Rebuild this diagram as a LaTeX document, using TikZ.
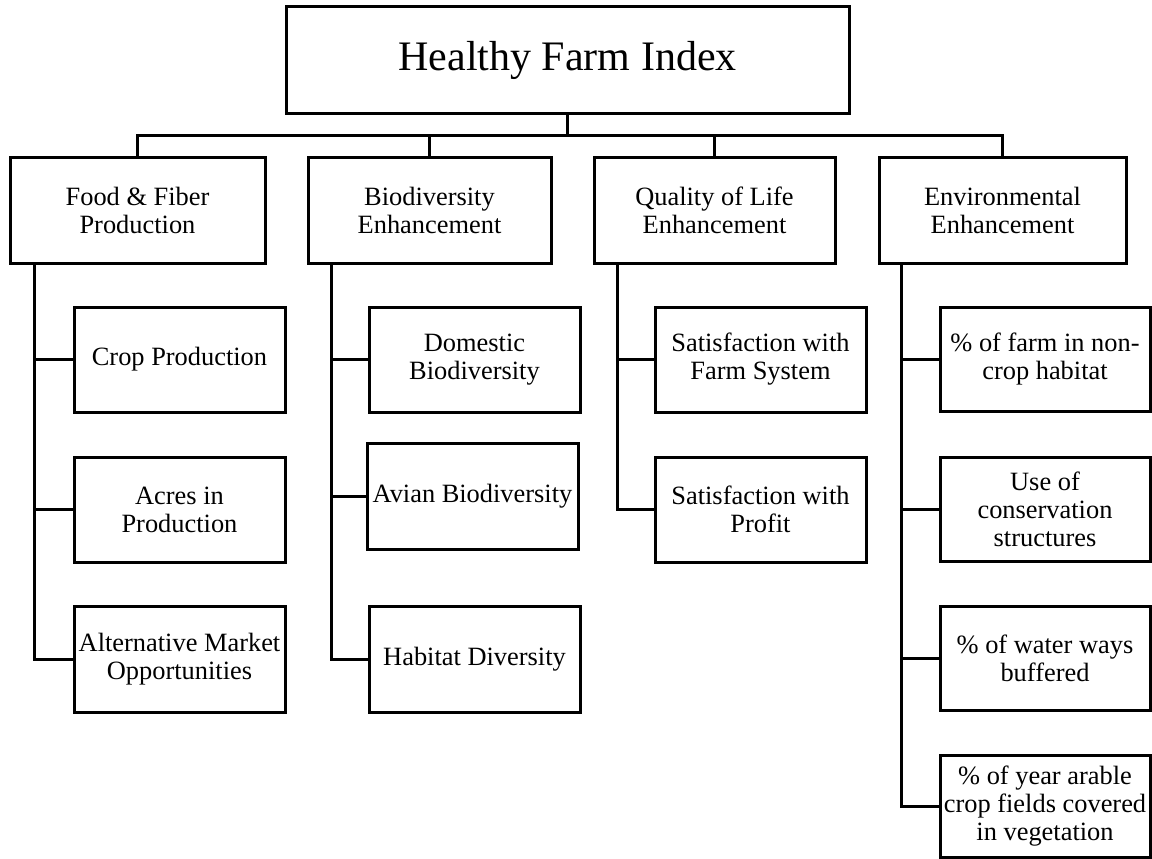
\documentclass[tikz,border=0pt]{standalone}
\usepackage{fontspec}
\setmainfont{Liberation Serif}
\begin{document}
\begin{tikzpicture}[x=1pt,y=-1pt,
  every path/.style={line width=3pt},
  box/.style={draw, line width=3pt, rectangle, inner sep=0pt, align=center,
    font=\fontsize{26.4}{28}\selectfont},
  lvl/.style={box, minimum height=106pt},
  leaf/.style={box, minimum width=211pt, minimum height=105pt}]
\useasboundingbox (0,0) rectangle (1152,859);
% root
\node[box, minimum width=563pt, minimum height=106pt, font=\fontsize{42}{46}\selectfont] (hfi) at (567.5,60) {Healthy Farm Index};
% level 1
\node[lvl, minimum width=255pt] (food) at (137.5,210) {Food \& Fiber\\Production};
\node[lvl, minimum width=243pt] (bio) at (429.5,210) {Biodiversity\\Enhancement};
\node[lvl, minimum width=241pt] (qol) at (714.5,210) {Quality of Life\\Enhancement};
\node[lvl, minimum width=247pt] (env) at (1002.5,210) {Environmental\\Enhancement};
% food children
\node[leaf] (crop) at (179.5,359.5) {Crop Production};
\node[leaf] (acres) at (179.5,509.5) {Acres in\\Production};
\node[leaf, minimum height=106pt] (alt) at (179.5,659) {Alternative Market\\Opportunities};
% biodiversity children
\node[leaf] (dom) at (474.5,359.5) {Domestic\\Biodiversity};
\node[leaf, minimum height=106pt] (avian) at (472.5,496) {Avian Biodiversity};
\node[leaf, minimum height=106pt] (hab) at (474.5,659) {Habitat Diversity};
% quality children
\node[leaf] (sat1) at (760.5,359.5) {Satisfaction with\\Farm System};
\node[leaf] (sat2) at (760.5,509.5) {Satisfaction with\\Profit};
% environmental children
\node[leaf, minimum width=210pt, minimum height=104pt] (e1) at (1045,359.5) {\% of farm in non-\\crop habitat};
\node[leaf, minimum width=210pt, minimum height=104pt] (e2) at (1045,509) {Use of\\conservation\\structures};
\node[leaf, minimum width=210pt, minimum height=104pt] (e3) at (1045,658.5) {\% of water ways\\buffered};
\node[leaf, minimum width=210pt, minimum height=102pt] (e4) at (1045,806) {\% of year arable\\crop fields covered\\in vegetation};
% bus
\coordinate (bus) at (568,135);
\draw (food.north) -- (food.north |- bus) -- (env.north |- bus) -- (env.north);
\draw (bio.north) -- (bio.north |- bus);
\draw (qol.north) -- (qol.north |- bus);
\draw (hfi.south) -- (hfi.south |- bus);
% trunks
\coordinate (ft) at ([xshift=26pt]food.south west);
\coordinate (bt) at ([xshift=25pt]bio.south west);
\coordinate (qt) at ([xshift=25pt]qol.south west);
\coordinate (et) at ([xshift=24pt]env.south west);
\draw (ft) |- (alt.west);
\draw (ft |- crop.west) -- (crop.west);
\draw (ft |- acres.west) -- (acres.west);
\draw (bt) |- (hab.west);
\draw (bt |- dom.west) -- (dom.west);
\draw (bt |- avian.west) -- (avian.west);
\draw (qt) |- (sat2.west);
\draw (qt |- sat1.west) -- (sat1.west);
\draw (et) |- (e4.west);
\draw (et |- e1.west) -- (e1.west);
\draw (et |- e2.west) -- (e2.west);
\draw (et |- e3.west) -- (e3.west);
\end{tikzpicture}
\end{document}
